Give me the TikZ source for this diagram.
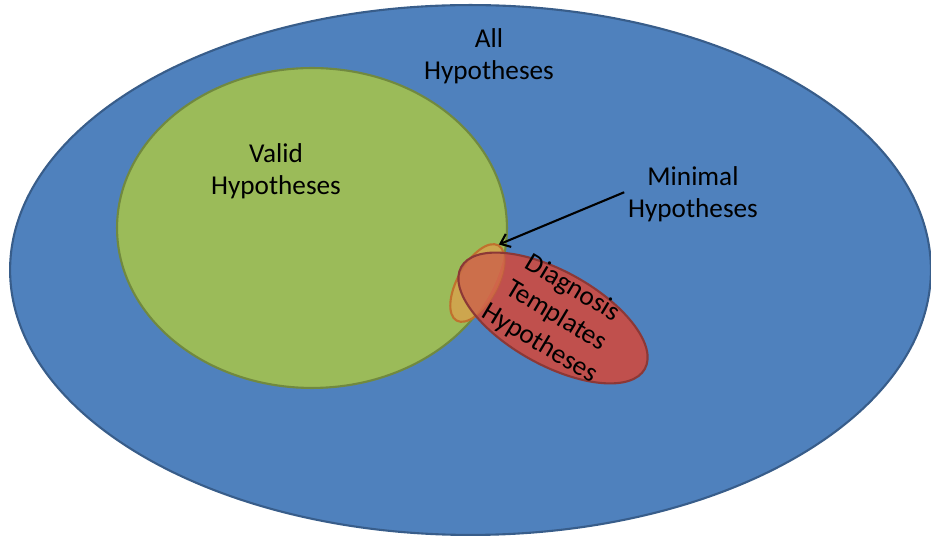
\documentclass[tikz,border=0pt]{standalone}
\usepackage{fontspec}
\setmainfont{Carlito}
\usetikzlibrary{shapes.geometric,arrows.meta}

\definecolor{allfill}{HTML}{4F81BD}
\definecolor{alldraw}{HTML}{385D8A}
\definecolor{validfill}{HTML}{9BBB59}
\definecolor{validdraw}{HTML}{71893F}
\definecolor{minfill}{HTML}{F79646}
\definecolor{mindraw}{HTML}{C0712E}
\definecolor{diagfill}{HTML}{C0504D}
\definecolor{diagdraw}{HTML}{8C3836}

\tikzset{
  set/.style={ellipse, inner sep=0pt, line width=1.2pt},
  lbl/.style={align=center, inner sep=2pt, font=\fontsize{15.5}{18.3}\selectfont}
}

\begin{document}
\begin{tikzpicture}[x=0.02cm, y=-0.02cm]
\useasboundingbox (0,0) rectangle (931,540);

\node[set, draw=alldraw, fill=allfill, minimum width=18.42cm, minimum height=10.6cm] (all) at (470.5,270) {};
\node[set, draw=validdraw, fill=validfill, minimum width=7.8cm, minimum height=6.4cm] (valid) at (312,228) {};
\node[set, draw=mindraw, fill=minfill, fill opacity=0.55, rotate=61, minimum width=1.72cm, minimum height=0.8cm] (minimal) at (477.5,283) {};
\node[set, fill=diagfill, rotate=-29, minimum width=4.2cm, minimum height=1.88cm] (diag) at (553,318) {};

% what shows through the red one
\begin{scope}
  \clip[rotate around={-29:(553,318)}] (553,318) ellipse [x radius=105, y radius=47];
  \fill[validfill, opacity=0.15] (valid.center) ellipse [x radius=195, y radius=160];
  \draw[mindraw, fill=minfill, opacity=0.3, line width=1.2pt, rotate around={61:(477.5,283)}] (477.5,283) ellipse [x radius=43, y radius=20];
\end{scope}
\node[set, draw=diagdraw, rotate=-29, minimum width=4.2cm, minimum height=1.88cm] at (diag.center) {};

\node[lbl] (alltext) at (489,56) {All\\Hypotheses};
\node[lbl] (validtext) at (276,171) {Valid\\Hypotheses};
\node[lbl] (mintext) at (693,194) {Minimal\\Hypotheses};
\node[lbl, rotate=-31] (diagtext) at (556,316) {Diagnosis\\Templates\\Hypotheses};

\draw[-{Straight Barb[length=5pt,width=8pt]}, line width=1.2pt] ([yshift=1pt]mintext.west) -- (minimal.east);
\end{tikzpicture}
\end{document}
